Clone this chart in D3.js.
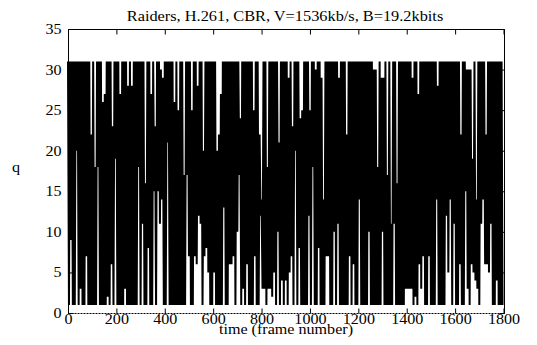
<!DOCTYPE html>
<html>
<head>
<meta charset="utf-8">
<script src="https://cdn.jsdelivr.net/npm/d3@7/dist/d3.min.js"></script>
<style>
  html, body { margin: 0; padding: 0; background: #fff; }
  svg { display: block; }
  text { font-family: "Liberation Serif", "Times New Roman", serif; fill: #000; }
</style>
</head>
<body>
<svg id="chart" width="537" height="345"></svg>
<script>
// Quantizer step q per frame, sampled every 4th frame (frames 0, 4, ... 1796)
const frameStep = 4;
const qValues = [
  31,1,31,9,31,1,31,1,31,20,
  31,1,31,3,31,1,31,1,31,7,
  31,1,31,1,22,1,31,1,18,1,
  31,18,31,1,31,1,26,1,27,1,
  31,2,31,1,31,6,23,1,31,19,
  31,1,31,1,27,1,31,1,31,3,
  31,1,28,1,31,1,28,1,31,1,
  31,1,31,18,31,1,31,11,31,1,
  16,1,31,8,31,1,27,1,31,15,
  23,1,31,15,31,11,30,14,29,1,
  31,1,31,21,31,1,31,1,31,1,
  26,1,31,1,25,1,31,1,31,1,
  17,1,31,17,31,7,31,1,25,1,
  31,7,31,6,28,12,31,11,31,1,
  20,7,31,8,31,5,31,1,31,1,
  31,5,31,1,20,1,22,1,27,1,
  31,13,31,1,31,1,31,6,31,6,
  31,7,31,1,31,10,31,17,24,1,
  31,3,31,1,31,6,31,1,31,1,
  31,1,25,7,31,1,31,1,22,12,
  14,3,31,3,31,1,18,3,31,3,
  31,2,31,5,31,1,31,10,21,1,
  31,4,31,1,31,4,31,1,29,5,
  31,7,23,1,31,20,31,1,31,8,
  24,1,25,1,31,1,31,1,31,12,
  25,1,31,18,31,1,30,1,31,8,
  31,1,29,1,14,1,31,7,31,7,
  31,1,31,1,31,10,31,1,31,11,
  29,1,31,1,31,1,31,1,22,1,
  31,7,31,1,31,6,31,1,31,1,
  31,14,31,1,31,1,31,1,31,1,
  31,10,31,1,31,1,30,1,30,1,
  18,1,31,1,29,10,29,1,31,1,
  17,1,31,1,11,1,31,11,31,1,
  16,1,31,1,31,1,31,1,31,3,
  31,3,31,3,31,3,29,1,31,2,
  31,1,27,6,31,3,31,7,31,1,
  31,1,31,7,31,1,31,1,31,1,
  31,14,28,1,31,1,31,1,31,1,
  31,12,31,5,31,14,31,1,31,11,
  31,1,31,1,31,6,22,1,31,1,
  31,15,30,3,30,1,30,6,19,5,
  31,4,14,3,31,1,31,11,31,14,
  31,6,22,6,31,5,31,11,31,1,
  31,1,31,4,31,1,31,1,31,1
];

const xTicks = [0, 200, 400, 600, 800, 1000, 1200, 1400, 1600, 1800];
const yTicks = [0, 5, 10, 15, 20, 25, 30, 35];

const titleText = "Raiders, H.261, CBR, V=1536kb/s, B=19.2kbits";
const xLabel = "time (frame number)";
const yLabel = "q";

const serif = "'Liberation Serif', 'Times New Roman', serif";
const stretch = 1.15; // text is set slightly wide

const svg = d3.select("#chart");
const plotLeft = 68, plotRight = 503.5, plotTop = 29, plotBottom = 313;

const x = d3.scaleLinear().domain([0, 1800]).range([plotLeft, plotRight]);
const y = d3.scaleLinear().domain([0, 35]).range([plotBottom, plotTop]);

const series = qValues.map((q, i) => ({ frame: i * frameStep, q }));

// data trace
svg.append("path")
  .datum(series)
  .attr("fill", "none")
  .attr("stroke", "#000")
  .attr("stroke-width", 2)
  .attr("stroke-linejoin", "bevel")
  .attr("d", d3.line().x(d => x(d.frame)).y(d => y(d.q)));

// frame: solid top/left/right, dotted bottom
const L = Math.round(plotLeft) + 0.5, R = Math.round(plotRight) + 0.5;
const T = Math.round(plotTop) + 0.5, B = Math.round(plotBottom) + 0.5;
svg.append("path")
  .attr("d", `M${L},${B}V${T}H${R}V${B}`)
  .attr("fill", "none").attr("stroke", "#000").attr("stroke-width", 1);
svg.append("line")
  .attr("x1", L).attr("x2", R).attr("y1", B).attr("y2", B)
  .attr("stroke", "#000").attr("stroke-width", 1)
  .attr("stroke-dasharray", "2,1");

// inward ticks via d3 axes
const tickLen = 5;
const axB = svg.append("g").attr("transform", `translate(0,${B})`)
  .call(d3.axisBottom(x).tickValues(xTicks).tickSize(-tickLen).tickPadding(1).tickFormat(d3.format("d")));
const axT = svg.append("g").attr("transform", `translate(0,${T})`)
  .call(d3.axisTop(x).tickValues(xTicks).tickSize(-tickLen).tickFormat(""));
const axL = svg.append("g").attr("transform", `translate(${L},0)`)
  .call(d3.axisLeft(y).tickValues(yTicks).tickSize(-tickLen).tickPadding(6).tickFormat(d3.format("d")));
const axR = svg.append("g").attr("transform", `translate(${R},0)`)
  .call(d3.axisRight(y).tickValues(yTicks).tickSize(-tickLen).tickFormat(""));

[axB, axT, axL, axR].forEach(g => {
  g.attr("font-family", serif).attr("font-size", 14);
  g.select(".domain").remove();
  g.selectAll(".tick line").attr("stroke", "#000");
  g.selectAll(".tick text")
    .attr("font-family", serif)
    .style("font-family", serif)
    .style("font-size", "14px")
    .attr("fill", "#000")
    .attr("transform", `scale(${stretch},1)`);
});

function label(txt, cx, cy, size) {
  svg.append("text")
    .attr("transform", `translate(${cx},${cy}) scale(${stretch},1)`)
    .attr("text-anchor", "middle")
    .style("font-family", serif)
    .style("font-size", size + "px")
    .text(txt);
}

label(titleText, 285, 21, 14.2);
label(xLabel, 286, 334, 14);
label(yLabel, 16, 172, 14);
</script>
</body>
</html>
